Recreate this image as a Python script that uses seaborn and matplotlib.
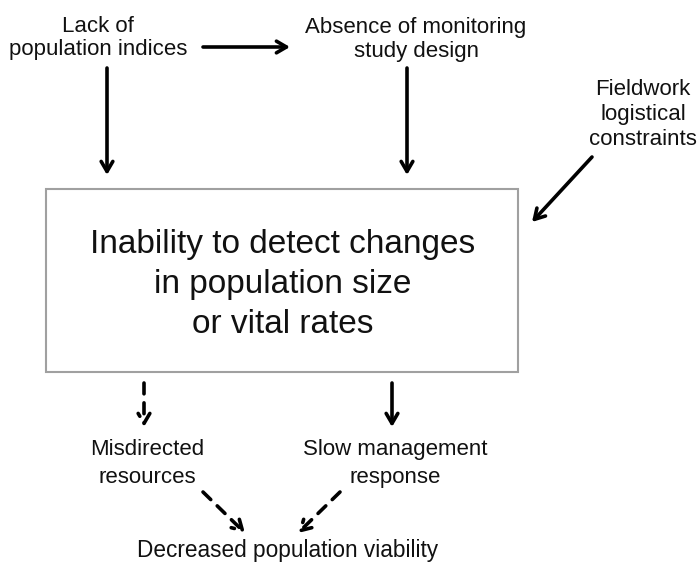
import matplotlib
matplotlib.use('Agg')
import matplotlib.pyplot as plt
import seaborn as sns
from matplotlib.patches import Rectangle

sns.set_theme(style='white')
plt.rcParams['font.family'] = ['Liberation Sans', 'DejaVu Sans']

# node labels
top_left = ['Lack of', 'population indices']
top_mid = ['Absence of monitoring', 'study design']
side = ['Fieldwork', 'logistical', 'constraints']
center = ['Inability to detect changes', 'in population size', 'or vital rates']
out_left = ['Misdirected', 'resources']
out_right = ['Slow management', 'response']
final = ['Decreased population viability']

fig = plt.figure(figsize=(6.99, 5.63), dpi=100)
ax = fig.add_axes([0, 0, 1, 1])
ax.set_xlim(0, 699)
ax.set_ylim(563, 0)
ax.axis('off')


def block(lines, x, y0, step, size):
    for i, s in enumerate(lines):
        ax.text(x, y0 + i * step, s, ha='center', va='baseline', fontsize=size, color='#111111')


block(top_left, 98, 32, 23.5, 16)
block(top_mid, 416, 33, 24, 16)
block(side, 643, 95, 25, 16)
block(center, 283, 253, 40, 24)
block(out_left, 147, 455, 28, 16)
block(out_right, 395, 455, 28, 16)
block(final, 288, 557, 25, 16.3)

ax.add_patch(Rectangle((46, 189), 472, 183, fill=False, edgecolor='#a0a0a0', lw=1.5))


def arrow(x0, y0, x1, y1, dashed=False):
    ax.annotate('', xy=(x1, y1), xytext=(x0, y0),
                arrowprops=dict(arrowstyle='->,head_length=0.6,head_width=0.35',
                                lw=2.6, color='black',
                                linestyle=(0, (3, 2.5)) if dashed else '-',
                                shrinkA=0, shrinkB=0))


arrow(203, 47, 290, 47)
arrow(107, 68, 107, 175)
arrow(407, 68, 407, 175)
arrow(592, 157, 532, 222)
arrow(144, 383, 144, 427, dashed=True)
arrow(392, 383, 392, 427)
arrow(203, 492, 245, 533, dashed=True)
arrow(340, 492, 298, 533, dashed=True)

fig.savefig('out.png', dpi=100)
